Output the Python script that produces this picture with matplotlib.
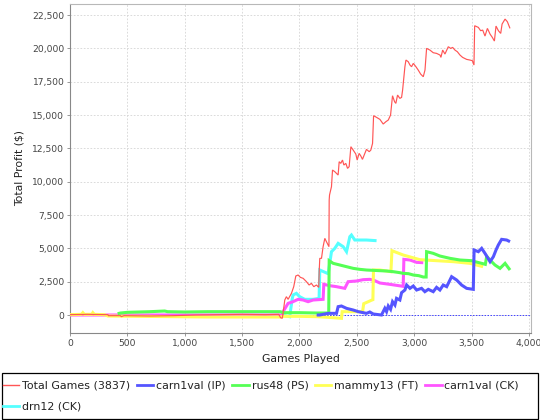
import matplotlib
matplotlib.use("Agg")
import matplotlib.pyplot as plt
from matplotlib.ticker import FuncFormatter
from matplotlib.lines import Line2D
from matplotlib.patches import Rectangle

# ---------------- data (games played, profit $) ----------------
total_pts = [(0, 25), (150, 50), (330, 25), (335, -50), (440, -50), (447, -125), (470, -50),
             (700, -75), (900, -50), (1100, 0), (1300, 25), (1500, 50), (1700, 25), (1820, 50),
             (1835, -200), (1850, -250), (1857, 125), (1872, 1125), (1886, 1375), (1901, 1175),
             (1930, 1625), (1950, 2125), (1968, 2925), (1988, 3000), (2008, 2825), (2032, 2750),
             (2061, 2500), (2084, 2250), (2104, 2375), (2125, 2125), (2148, 2250), (2168, 2075),
             (2172, 3300), (2177, 4250), (2192, 4250), (2206, 5125), (2221, 5750), (2235, 5500),
             (2257, 5125), (2259, 8625), (2262, 9000), (2270, 9300), (2279, 9625), (2288, 10875),
             (2308, 10750), (2337, 10500), (2346, 11500), (2360, 11375), (2375, 11625),
             (2387, 11250), (2404, 11375), (2419, 11000), (2433, 11125), (2448, 12625),
             (2468, 12375), (2491, 12075), (2503, 11625), (2520, 12125), (2535, 11925),
             (2549, 11675), (2564, 12000), (2584, 12425), (2608, 12250), (2622, 12375),
             (2637, 12875), (2646, 14950), (2672, 14825), (2701, 14675), (2730, 14325),
             (2753, 14500), (2774, 14625), (2794, 15000), (2811, 16450), (2829, 16000),
             (2840, 15875), (2855, 16500), (2875, 16250), (2890, 16325), (2899, 16875),
             (2919, 18625), (2928, 19125), (2948, 19000), (2963, 18750), (2977, 18625),
             (2992, 18875), (3015, 18625), (3035, 18375), (3056, 18075), (3079, 17875),
             (3094, 18375), (3108, 20000), (3137, 19875), (3166, 19675), (3195, 19625),
             (3225, 19500), (3233, 19325), (3248, 19875), (3268, 19575), (3297, 20125),
             (3318, 20000), (3335, 20075), (3355, 19875), (3376, 19750), (3399, 19500),
             (3422, 19325), (3457, 19175), (3486, 19125), (3507, 19075), (3521, 18750),
             (3527, 21700), (3559, 21575), (3579, 21325), (3597, 21375), (3617, 20925),
             (3638, 21500), (3661, 21075), (3681, 20825), (3699, 20550), (3713, 21675),
             (3734, 21325), (3754, 21125), (3766, 21825), (3792, 22200), (3812, 22000),
             (3835, 21500)]

carn_ip_pts = [(2150, 0), (2177, 0), (2250, 125), (2323, 125), (2337, 625), (2366, 675),
               (2410, 500), (2468, 375), (2512, 250), (2584, 125), (2613, 225), (2643, 75),
               (2715, 0), (2744, 500), (2759, 250), (2774, 675), (2794, 425), (2811, 1000),
               (2832, 750), (2846, 1250), (2875, 1125), (2890, 1675), (2919, 1875), (2934, 2250),
               (2963, 2000), (2992, 2175), (3021, 1875), (3064, 2000), (3093, 1750), (3123, 1925),
               (3166, 1750), (3195, 2075), (3224, 1875), (3253, 2250), (3283, 2125), (3326, 2875),
               (3370, 2625), (3413, 2250), (3457, 2000), (3515, 1925), (3522, 4875), (3559, 4750),
               (3588, 5000), (3617, 4625), (3661, 4000), (3690, 4375), (3713, 4875), (3733, 5250),
               (3762, 5675), (3806, 5625), (3835, 5500)]

rus48_pts = [(415, 100), (440, 150), (500, 200), (600, 225), (700, 250), (825, 300), (850, 250),
             (1000, 225), (1200, 250), (1400, 250), (1600, 250), (1830, 250), (1860, 175),
             (2000, 175), (2150, 150), (2255, 150), (2259, 4075), (2294, 3875), (2352, 3750),
             (2410, 3625), (2468, 3500), (2526, 3425), (2584, 3375), (2643, 3350), (2701, 3325),
             (2759, 3300), (2817, 3250), (2875, 3175), (2904, 3125), (2950, 3100), (2992, 3000),
             (3040, 2950), (3079, 2850), (3104, 2850), (3108, 4750), (3166, 4625), (3224, 4425),
             (3312, 4250), (3399, 4125), (3501, 4075), (3530, 4000), (3588, 3875), (3620, 3800),
             (3632, 4400), (3661, 4125), (3704, 3750), (3748, 3500), (3792, 3875), (3835, 3375)]

mammy_pts = [(0, 25), (100, 50), (112, 175), (125, 50), (190, 50), (199, 175), (212, 50),
             (300, 25), (330, -75), (600, -100), (900, -125), (1200, -150), (1500, -150),
             (1830, -150), (1860, -100), (2000, -100), (2150, -125), (2250, -175), (2366, -250),
             (2372, 250), (2550, 250), (2560, 850), (2600, 1000), (2625, 1100), (2640, 1150),
             (2645, 3375), (2700, 3375), (2797, 3250), (2806, 4825), (2904, 4500), (3050, 4150),
             (3195, 4075), (3341, 4000), (3486, 3875), (3600, 3625)]

carn_ck_pts = [(0, 0), (500, 0), (1000, 0), (1500, 0), (1850, 0), (1857, 250), (1901, 875),
               (1944, 1000), (1988, 1175), (2032, 1125), (2075, 1000), (2119, 1125), (2206, 1175),
               (2212, 2300), (2264, 2200), (2323, 2125), (2395, 2000), (2424, 2500), (2497, 2550),
               (2555, 2650), (2613, 2675), (2650, 2600), (2701, 2400), (2788, 2300), (2904, 2150),
               (2910, 4175), (2963, 4125), (3021, 3950), (3079, 3925)]

drn_pts = [(1650, -50), (1830, -75), (1872, -50), (1915, -125), (1935, 1125), (1944, 1500),
           (1973, 1625), (2002, 1375), (2046, 1175), (2119, 1175), (2171, 1250), (2177, 3375),
           (2250, 3100), (2279, 4750), (2308, 5000), (2337, 5375), (2381, 5125), (2410, 4750),
           (2439, 5875), (2453, 6000), (2482, 5625), (2584, 5625), (2672, 5575)]

series_labels = ["Total Games (3837)", "carn1val (IP)", "rus48 (PS)", "mammy13 (FT)",
                 "carn1val (CK)", "drn12 (CK)"]
series_data = [total_pts, carn_ip_pts, rus48_pts, mammy_pts, carn_ck_pts, drn_pts]
series_colors = ["#ff5555", "#5555ff", "#55ff55", "#ffff55", "#ff55ff", "#55ffff"]
series_widths = [0.85, 2.2, 2.2, 2.2, 2.2, 2.2]

x_ticks = [0, 500, 1000, 1500, 2000, 2500, 3000, 3500, 4000]
y_ticks = [0, 2500, 5000, 7500, 10000, 12500, 15000, 17500, 20000, 22500]

# ---------------- figure ----------------
W, H = 540, 420
fig = plt.figure(figsize=(W / 100, H / 100), dpi=100)
fig.patch.set_facecolor("white")
L, R, T, B = 70, 531, 4, 333
ax = fig.add_axes([L / W, (H - B) / H, (R - L) / W, (B - T) / H])
ax.set_facecolor("white")

n = len(series_data)
for i, (pts, lab, col, lw) in enumerate(zip(series_data, series_labels, series_colors, series_widths)):
    xs = [p[0] for p in pts]
    ys = [p[1] for p in pts]
    ax.plot(xs, ys, color=col, lw=lw, label=lab, zorder=10 + (n - i),
            solid_joinstyle="miter", solid_capstyle="butt")

ax.axhline(0, color="#4040ff", lw=0.7, ls=(0, (1.5, 1.5)), zorder=9)

ax.set_xlim(0, 4018)
ax.set_ylim(-1350, 23330)
ax.set_xticks(x_ticks)
ax.set_yticks(y_ticks)
fmt = FuncFormatter(lambda v, p: f"{v:,.0f}")
ax.xaxis.set_major_formatter(fmt)
ax.yaxis.set_major_formatter(fmt)
ax.grid(True, color="#d4d4d4", lw=0.6, ls=(0, (2, 2)), zorder=0)
ax.set_axisbelow(True)

for s in ["top", "right"]:
    ax.spines[s].set_color("#b8b8b8")
    ax.spines[s].set_linewidth(0.8)
for s in ["left", "bottom"]:
    ax.spines[s].set_color("#888888")
    ax.spines[s].set_linewidth(0.8)

ax.tick_params(axis="both", direction="out", length=2, width=0.6, color="#888888",
               labelsize=6.6, labelcolor="#444444", pad=2)

ax.set_xlabel("Games Played", fontsize=7.8, color="#222222")
ax.set_ylabel("Total Profit ($)", fontsize=7.8, color="#222222")
ax.xaxis.set_label_coords(0.5, -0.065)
ax.yaxis.set_label_coords(-0.098, 0.5)

# legend frame
fig.patches.append(Rectangle((2 / W, (H - 419) / H), 536 / W, 46 / H, transform=fig.transFigure,
                             fill=False, edgecolor="black", lw=0.9))
handles = [Line2D([0], [0], color=c, lw=2.0 if i else 1.0) for i, c in enumerate(series_colors)]
order = [0, 5, 1, 2, 3, 4]
leg = fig.legend([handles[k] for k in order], [series_labels[k] for k in order],
                 loc="upper left", bbox_to_anchor=(3 / W, (H - 381) / H), ncol=5,
                 frameon=False, fontsize=7.9, handlelength=1.5, handletextpad=0.25,
                 columnspacing=0.6, labelspacing=0.95, borderpad=0, borderaxespad=0)
for t in leg.get_texts():
    t.set_color("#222222")

fig.savefig("out.png", dpi=100, facecolor="white")
